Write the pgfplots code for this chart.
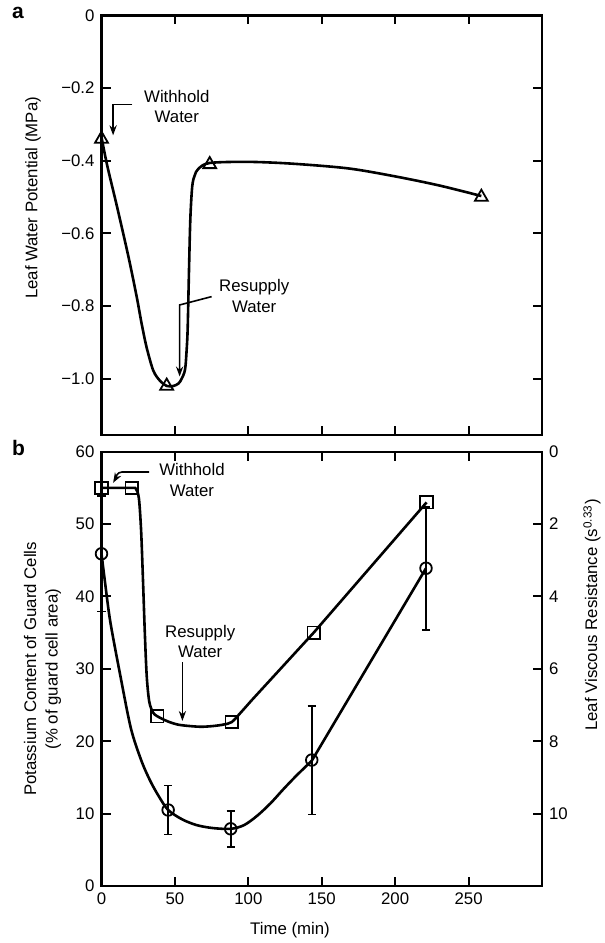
\documentclass[border=0pt]{standalone}
\usepackage{fontspec}
\setmainfont{Liberation Sans}
\usepackage{pgfplots}
\pgfplotsset{compat=1.18}
\usetikzlibrary{arrows.meta}

\newcommand{\lbl}{\fontsize{8.4}{10.3}\selectfont}

\tikzset{arr/.style={line width=0.8pt, -{Stealth[length=5pt,width=3.6pt]}}}

\pgfplotsset{
  base/.style={
    scale only axis, width=220.25pt,
    xmin=0, xmax=300,
    clip=false,
    tick align=inside,
    major tick length=4.5pt,
    axis line style={line width=1.1pt},
    every tick/.style={line width=1pt, black},
    tick label style={font=\lbl},
    /pgf/number format/assume math mode=true,
  },
  curve/.style={black, line width=1.3pt, smooth, tension=0.5},
  seg/.style={black, line width=1.3pt},
}

\begin{document}
\begin{tikzpicture}

% ---- panel a: leaf water potential
\begin{axis}[base,
  at={(50.75pt,254pt)}, anchor=south west, height=209.75pt,
  ymin=-1.155, ymax=0,
  ytick={0,-0.2,-0.4,-0.6,-0.8,-1.0},
  yticklabels={0,−0.2,−0.4,−0.6,−0.8,−1.0},
  xtick={50,100,150,200,250}, xticklabels={},
  xtick pos=both, ytick pos=both, yticklabel pos=left,
]
\addplot[curve] coordinates {
  (0,-0.335) (4,-0.415) (10.5,-0.525) (18.4,-0.665) (24,-0.775)
  (27.4,-0.85) (30.8,-0.915) (35.3,-0.978) (39.9,-1.006) (44.4,-1.02)
  (49,-1.02) (52.5,-1.013) (54.6,-1.0) (56.9,-0.975) (58,-0.92) (58.7,-0.86)
  (59.6,-0.70) (60.5,-0.56) (61.8,-0.47) (63.5,-0.44) (66,-0.422)
  (73.7,-0.406) (100,-0.403) (130,-0.408) (168,-0.421) (200,-0.443)
  (230,-0.468) (258.7,-0.497)
};
\addplot[only marks, mark=triangle, mark size=3.7pt,
  mark options={line width=0.9pt, fill=white}] coordinates {
  (0,-0.34) (44.4,-1.02) (73.7,-0.41) (258.7,-0.50)
};
\node[align=center, font=\lbl] at (axis cs:51.3,-0.251) {Withhold\\Water};
\draw[arr] (axis cs:21,-0.245) -- (axis cs:7.9,-0.245) -- (axis cs:7.9,-0.33);
\node[align=center, font=\lbl] at (axis cs:104,-0.773) {Resupply\\Water};
\draw[arr] (axis cs:75,-0.774) -- (axis cs:53.2,-0.797) -- (axis cs:53.2,-0.994);
\end{axis}

% ---- panel b: potassium content (left axis)
\begin{axis}[base,
  at={(50.75pt,28.5pt)}, anchor=south west, height=217.15pt,
  ymin=0, ymax=60, ytick={0,10,...,60},
  xtick={0,50,...,250},
  xtick pos=both, xticklabel pos=bottom, ytick pos=left,
]
\addplot[curve] coordinates {
  (0,45.9) (2.5,41.8) (6,36.5) (12.6,29.3) (20,21.8) (27,17.4) (33,14.6)
  (39,12.4) (45.4,10.5) (55,9.2) (65,8.4) (76,8.0) (88,7.9) (97,8.4)
  (106,9.7) (115,11.4) (124,13.4) (133,15.3) (143.2,17.3)
};
\addplot[seg] coordinates {(143.2,17.3) (221,43.9)};
% error bars
\addplot[black, only marks, mark=*, mark size=0pt,
  error bars/.cd, y dir=both, y explicit,
  error bar style={line width=0.8pt},
  error mark options={rotate=90, line width=0.8pt, mark size=2.1pt}] coordinates {
  (0,45.9) +- (0,8.0)
  (45.4,10.5) +- (0,3.4)
  (88,7.9) +- (0,2.5)
  (143.2,17.4) +- (0,7.5)
  (221,43.9) +- (0,8.5)
};
\addplot[only marks, mark=o, mark size=2.9pt,
  mark options={line width=0.9pt, fill=white}] coordinates {
  (0,45.9) (45.4,10.5) (88,7.9) (143.2,17.4) (221,43.9)
};
\node[align=center, font=\lbl] at (axis cs:61.6,56.1) {Withhold\\Water};
\draw[arr] (axis cs:32.5,57.2) -- (axis cs:14,57.2) to[out=180,in=60] (axis cs:7.9,55.7);
\node[align=center, font=\lbl] at (axis cs:67.2,33.8) {Resupply\\Water};
\draw[arr] (axis cs:55.1,30.9) -- (axis cs:55.1,22.8);
\end{axis}

% ---- panel b: leaf viscous resistance (right axis, reversed)
\begin{axis}[base,
  at={(50.75pt,28.5pt)}, anchor=south west, height=217.15pt,
  ymin=0, ymax=12, y dir=reverse, ytick={0,2,...,10},
  axis x line=none, axis y line*=right,
]
\addplot[curve] coordinates {
  (0,1.0) (20.5,1.0) (23.5,1.03) (25.5,1.3) (27,2.2) (28.3,3.6) (29.5,5.0)
  (30.8,6.2) (32.5,6.9) (35,7.2) (38,7.31) (45,7.45) (52,7.54) (60,7.58)
  (68,7.6) (76,7.58) (83,7.54) (88.7,7.47) (95,7.2) (102,6.88)
};
\addplot[seg] coordinates {(102,6.88) (144.5,5.0) (221.4,1.4)};
\addplot[only marks, mark=square, mark size=3.1pt,
  mark options={line width=0.9pt, fill=white}] coordinates {
  (0,1.0) (20.5,1.0) (38,7.31) (88.7,7.47) (144.5,5.0) (221.4,1.4)
};
\end{axis}

% ---- labels
\node[font=\lbl, rotate=90] at (16.5pt,372.5pt) {Leaf Water Potential (MPa)};
\node[font=\fontsize{8.4}{10.8}\selectfont, rotate=90, align=center] at (21.25pt,137pt)
  {Potassium Content of Guard Cells\\(\% of guard cell area)};
\node[font=\lbl, rotate=90] at (296pt,164pt) {Leaf Viscous Resistance (s\textsuperscript{0.33})};
\node[font=\lbl] at (145pt,6.5pt) {Time (min)};
\node[font=\bfseries\fontsize{10.5}{12}\selectfont] at (9pt,465pt) {a};
\node[font=\bfseries\fontsize{10.5}{12}\selectfont] at (9.25pt,247.5pt) {b};

\pgfresetboundingbox
\path (0pt,0pt) rectangle (302.5pt,471.5pt);
\end{tikzpicture}
\end{document}
